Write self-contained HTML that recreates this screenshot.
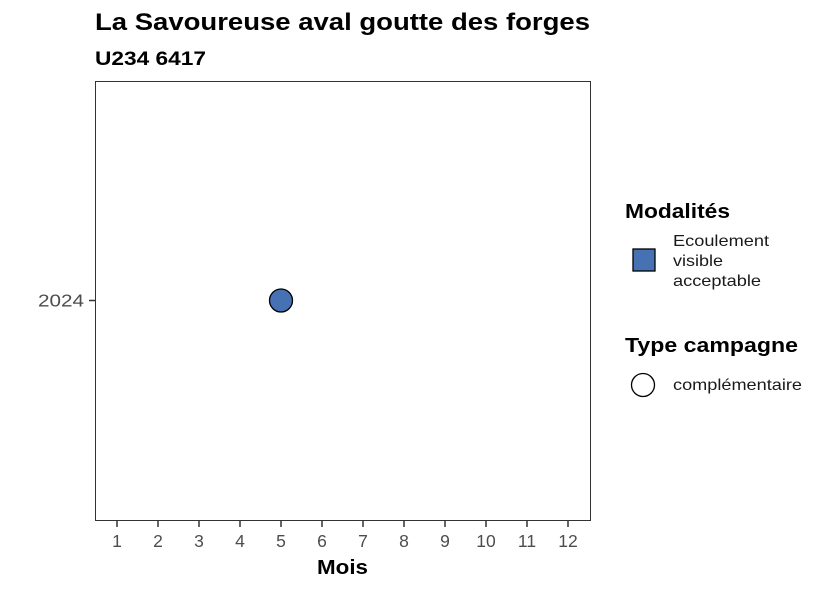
<!DOCTYPE html>
<html><head><meta charset="utf-8"><style>
body{margin:0;background:#fff;font-family:"Liberation Sans",sans-serif}
</style></head><body>
<svg width="826" height="590" xmlns="http://www.w3.org/2000/svg" font-family="Liberation Sans, sans-serif">
<text x="95" y="30" font-size="24" font-weight="bold" fill="#000" textLength="495" lengthAdjust="spacingAndGlyphs">La Savoureuse aval goutte des forges</text>
<text x="95" y="65" font-size="19" font-weight="bold" fill="#000" textLength="111" lengthAdjust="spacingAndGlyphs">U234 6417</text>
<rect x="95.5" y="81.5" width="495" height="439" fill="#fff" stroke="#333" stroke-width="1"/>
<g id="xaxis"></g>
<g id="yaxis"></g>
<g id="pts"></g>
<text x="317" y="574" font-size="20" font-weight="bold" textLength="51" lengthAdjust="spacingAndGlyphs">Mois</text>
<g>
<text x="625" y="218" font-size="20" font-weight="bold" textLength="105" lengthAdjust="spacingAndGlyphs">Modalités</text>
<rect x="633" y="249" width="22" height="22" fill="#4672b4" stroke="#000" stroke-width="1.3"/>
<text font-size="16" fill="#1a1a1a"><tspan x="673" y="246" textLength="96" lengthAdjust="spacingAndGlyphs">Ecoulement</tspan><tspan x="673" y="266" textLength="50" lengthAdjust="spacingAndGlyphs">visible</tspan><tspan x="673" y="286" textLength="88" lengthAdjust="spacingAndGlyphs">acceptable</tspan></text>
</g>
<g>
<text x="625" y="352" font-size="20" font-weight="bold" textLength="173" lengthAdjust="spacingAndGlyphs">Type campagne</text>
<circle cx="643" cy="385" r="11.5" fill="#fff" stroke="#000" stroke-width="1.3"/>
<text x="673" y="390" font-size="16" fill="#1a1a1a" textLength="129" lengthAdjust="spacingAndGlyphs">complémentaire</text>
</g>
</svg>
<script>
const months=[1,2,3,4,5,6,7,8,9,10,11,12];
const years=[2024];
const pointMonths=[5];
const pointYears=[2024];
const ns="http://www.w3.org/2000/svg";
const xs=m=>117+(m-1)*41;
const ys=y=>300.5;
const xa=document.getElementById('xaxis');
months.forEach(m=>{
 const t=document.createElementNS(ns,'line');
 t.setAttribute('x1',xs(m));t.setAttribute('x2',xs(m));t.setAttribute('y1',521);t.setAttribute('y2',527);t.setAttribute('stroke','#333');t.setAttribute('stroke-width','1.5');
 
 
 xa.appendChild(t);
 const l=document.createElementNS(ns,'text');
 l.setAttribute('x',xs(m));l.setAttribute('y',547);l.setAttribute('font-size','17.5');l.setAttribute('fill','#4d4d4d');l.setAttribute('text-anchor','middle');
 l.textContent=m;
 
 
 xa.appendChild(l);
});
const ya=document.getElementById('yaxis');
years.forEach(y=>{
 const t=document.createElementNS(ns,'line');
 t.setAttribute('x1',89);t.setAttribute('x2',95);t.setAttribute('y1',ys(y));t.setAttribute('y2',ys(y));t.setAttribute('stroke','#333');t.setAttribute('stroke-width','1.5');
 
 
 ya.appendChild(t);
 const l=document.createElementNS(ns,'text');
 l.setAttribute('x',38);l.setAttribute('y',ys(y)+6);l.setAttribute('font-size','17.5');l.setAttribute('fill','#4d4d4d');
 l.setAttribute('textLength','46');l.setAttribute('lengthAdjust','spacingAndGlyphs');
 l.textContent=y;
 
 
 ya.appendChild(l);
});
const pg=document.getElementById('pts');
pointMonths.forEach((m,i)=>{
 const c=document.createElementNS(ns,'circle');
 c.setAttribute('cx',xs(m));c.setAttribute('cy',ys(pointYears[i]));c.setAttribute('r',11.5);
 c.setAttribute('fill','#4672b4');c.setAttribute('stroke','#000');c.setAttribute('stroke-width','1.3');
 
 
 pg.appendChild(c);
});
</script>
</body></html>
